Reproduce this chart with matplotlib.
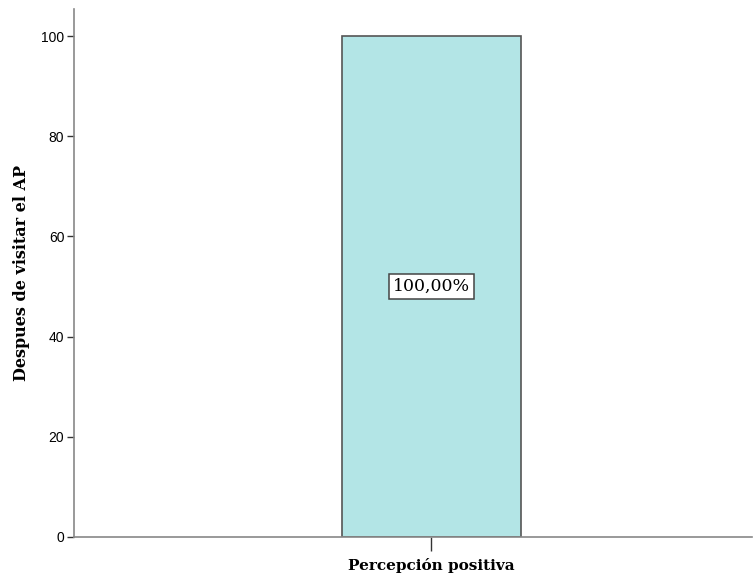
import matplotlib.pyplot as plt

categories = ['Percepción positiva']
values = [100]
labels = ['100,00%']
yticks = [0, 20, 40, 60, 80, 100]

fig = plt.figure(figsize=(7.53, 5.75), dpi=100)
ax = fig.add_axes([74 / 753, 38 / 575, 678 / 753, 528 / 575])

xpos = list(range(len(categories)))
ax.bar(xpos, values, width=0.264, color='#b3e5e6', edgecolor='#555555', linewidth=1.2, zorder=2)

# etiqueta en el centro de la barra
for x, v, lab in zip(xpos, values, labels):
    ax.text(x, v / 2, lab, ha='center', va='center', fontsize=12.5,
            family='DejaVu Serif',
            bbox=dict(boxstyle='square,pad=0.22', facecolor='white', edgecolor='#444444', linewidth=1.1))

ax.set_xlim(-0.527, 0.473)
ax.set_ylim(0, 105.4)
ax.set_yticks(yticks)
ax.set_yticklabels([str(t) for t in yticks], family='Liberation Sans', fontsize=10)
ax.set_xticks(xpos)
ax.set_xticklabels(categories, family='DejaVu Serif', fontweight='bold', fontsize=11)
ax.set_ylabel('Despues de visitar el AP', family='DejaVu Serif', fontweight='bold', fontsize=11.5, labelpad=8)

for s in ['top', 'right']:
    ax.spines[s].set_visible(False)
for s in ['left', 'bottom']:
    ax.spines[s].set_color('#888888')
    ax.spines[s].set_linewidth(1.2)
ax.tick_params(axis='y', direction='out', length=5, color='#333333', width=1, pad=2)
ax.tick_params(axis='x', direction='out', length=10, color='#333333', width=1, pad=5)

fig.savefig('out.png', dpi=100)
